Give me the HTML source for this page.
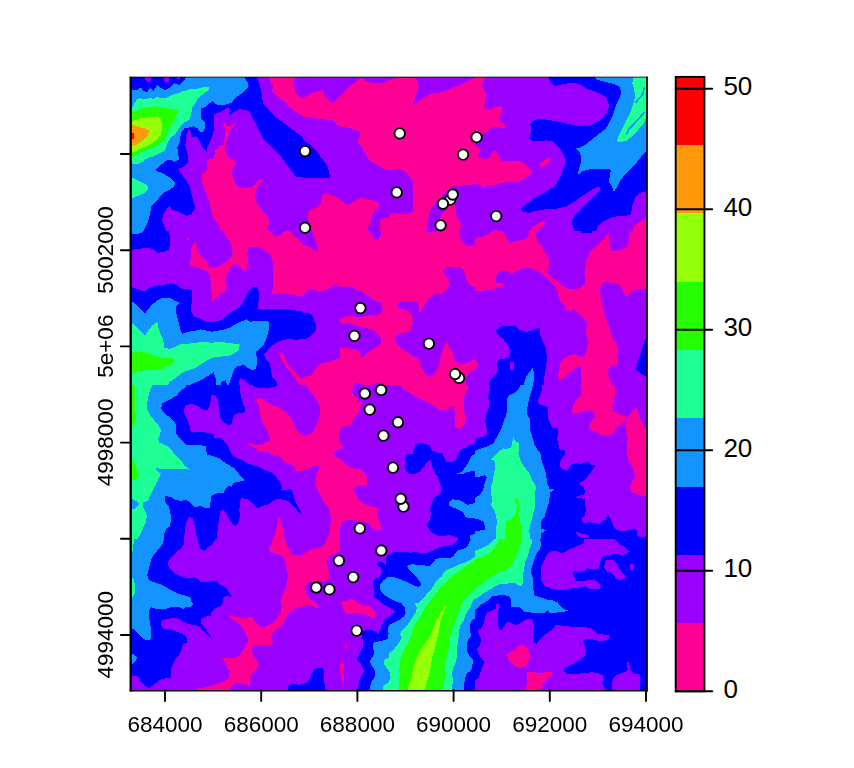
<!DOCTYPE html>
<html><head><meta charset="utf-8"><title>plot</title>
<style>
html,body{margin:0;padding:0;background:#fff;}
svg{display:block;}
text{font-family:"Liberation Sans",sans-serif;fill:#000;}
.ax{font-size:22.5px;}
.lg{font-size:26px;}
</style></head><body>
<svg width="854" height="768" viewBox="0 0 854 768">
<defs>
<clipPath id="c0"><rect x="131" y="77" width="172" height="154"/></clipPath>
<clipPath id="c1"><rect x="131" y="231" width="172" height="154"/></clipPath>
<clipPath id="c2"><rect x="131" y="385" width="172" height="154"/></clipPath>
<clipPath id="c3"><rect x="131" y="539" width="172" height="151"/></clipPath>
<clipPath id="c4"><rect x="303" y="77" width="172" height="154"/></clipPath>
<clipPath id="c5"><rect x="303" y="231" width="172" height="154"/></clipPath>
<clipPath id="c6"><rect x="303" y="385" width="172" height="154"/></clipPath>
<clipPath id="c7"><rect x="303" y="539" width="172" height="151"/></clipPath>
<clipPath id="c8"><rect x="475" y="77" width="172" height="154"/></clipPath>
<clipPath id="c9"><rect x="475" y="231" width="172" height="154"/></clipPath>
<clipPath id="c10"><rect x="475" y="385" width="172" height="154"/></clipPath>
<clipPath id="c11"><rect x="475" y="539" width="172" height="151"/></clipPath>
</defs>
<rect x="0" y="0" width="854" height="768" fill="#fff"/>
<g shape-rendering="crispEdges">
<g clip-path="url(#c0)">
<rect x="131" y="77" width="172" height="154" fill="#0000FF"/>
<polygon fill="#9900FF" points="166.2,231.1 164.2,226.0 162.2,220.0 163.2,214.0 167.3,207.9 170.3,205.9 171.3,209.9 177.3,210.9 183.4,214.0 187.4,216.0 191.4,214.0 195.4,207.9 193.4,201.9 191.4,193.8 189.4,185.8 185.4,179.7 181.4,173.7 178.3,169.6 179.3,168.6 185.4,165.6 188.4,161.6 187.4,153.5 185.4,145.5 186.4,135.4 188.4,129.4 190.4,130.4 191.4,137.4 195.4,136.4 197.5,137.4 201.5,145.5 206.5,151.5 207.5,147.5 211.6,137.4 214.6,129.4 213.6,121.3 213.6,114.3 219.6,112.2 223.6,110.2 228.7,107.2 229.7,115.3 233.7,112.2 239.8,109.2 245.8,110.2 249.8,111.2 251.8,117.3 255.9,123.3 259.9,131.4 263.9,139.4 272.0,147.5 280.0,155.5 286.1,163.6 292.1,171.7 296.2,176.7 304.2,177.7 304.2,232.1"/>
<polygon fill="#9900FF" points="256.9,76.0 259.9,85.1 261.9,95.1 262.9,103.2 270.0,111.2 276.0,117.3 284.1,123.3 292.1,129.4 300.2,135.4 304.2,137.4 304.2,76.0"/>
<polygon fill="#9900FF" points="145.1,76.0 151.1,76.0 151.1,80.6 148.1,82.0 145.1,80.0"/>
<polygon fill="#9900FF" points="164.2,76.0 169.3,76.0 169.3,81.0 166.9,83.0 164.2,81.0"/>
<polygon fill="#9900FF" points="177.3,76.0 180.3,76.0 180.3,79.4 177.3,79.4"/>
<polygon fill="#FF0094" points="269.0,76.0 270.0,81.0 273.0,86.1 272.0,91.1 276.0,95.1 281.0,99.2 286.1,103.2 290.1,107.2 295.1,111.2 299.2,114.3 304.2,115.7 304.2,99.2 299.2,97.1 296.2,93.1 294.1,87.1 294.1,81.0 295.1,76.0"/>
<polygon fill="#FF0094" points="223.6,124.3 225.7,123.3 227.7,126.3 231.7,125.3 235.7,122.9 236.1,124.3 232.7,127.4 229.7,130.4 228.7,135.4 227.7,139.4 225.7,144.5 224.7,146.5 225.7,151.5 227.7,156.6 231.7,159.6 235.7,162.6 236.1,164.0 233.7,166.6 231.7,171.7 232.7,176.7 234.7,181.7 237.7,186.8 242.8,187.8 249.8,187.4 254.9,184.8 257.9,180.7 260.9,179.3 261.9,181.7 258.9,185.8 255.9,190.8 254.9,195.8 256.9,201.9 259.9,207.9 263.9,212.9 268.0,216.0 269.0,222.0 268.0,228.1 268.0,232.1 221.6,232.1 219.6,226.0 215.6,221.0 212.6,216.0 210.6,208.9 209.5,201.9 207.5,195.8 204.5,189.8 202.5,183.7 201.5,177.7 202.5,173.7 205.5,171.7 207.5,167.6 206.5,161.6 208.5,159.6 212.6,158.6 214.6,154.5 215.6,149.5 218.6,146.5 220.6,144.5 223.6,144.5 224.7,137.4 225.7,131.4 224.7,127.4"/>
<polygon fill="#1494FF" points="130.0,90.1 130.0,232.1 143.1,232.1 145.1,228.1 148.1,222.0 150.1,214.0 151.1,205.9 155.2,202.9 159.2,197.8 163.2,192.8 169.3,189.8 174.3,186.8 174.9,182.7 170.3,177.7 163.2,173.7 155.2,170.0 161.2,164.6 166.2,160.6 170.3,159.6 174.3,161.6 179.3,159.6 178.3,155.5 177.3,147.5 179.3,143.5 180.3,137.4 181.4,132.4 184.4,128.4 189.4,127.4 193.4,126.3 197.5,128.4 200.5,132.4 203.5,131.4 205.5,127.4 204.5,122.3 201.5,119.3 200.5,114.3 201.5,108.2 205.5,107.2 209.5,103.2 212.6,101.2 215.6,104.2 221.6,105.2 227.7,104.2 232.7,102.2 233.7,99.2 237.7,96.1 242.8,93.1 246.8,89.1 248.8,85.1 246.8,81.0 243.8,76.0 186.4,76.0 184.4,80.0 179.3,85.1 174.3,83.0 169.3,88.1 165.2,90.1 161.2,88.1 157.2,85.1 153.2,91.1 150.1,88.1 147.1,92.1 143.1,91.1 141.1,87.1 137.0,90.1"/>
<polygon fill="#1EFF96" points="130.0,110.2 133.0,106.2 136.0,100.8 139.1,98.1 142.1,98.8 145.1,99.6 149.1,97.9 153.2,98.8 157.2,97.1 161.2,97.9 166.2,98.1 171.3,95.5 177.3,93.5 183.4,91.1 189.4,89.5 195.4,89.1 201.5,87.5 208.5,87.1 208.5,90.1 204.5,93.1 200.5,96.1 197.5,99.2 195.4,103.2 192.4,107.2 191.4,112.2 190.4,117.3 188.4,120.3 184.4,122.3 181.4,125.3 178.3,129.4 175.3,134.4 171.3,137.4 168.3,141.4 166.2,146.5 165.2,150.5 161.2,152.5 157.2,154.5 153.2,156.6 149.1,157.6 145.1,159.6 141.1,162.6 137.0,164.6 133.0,163.6 130.0,162.6"/>
<polygon fill="#1EFF96" points="130.0,177.7 135.0,178.7 140.1,181.7 146.1,184.8 148.7,186.8 147.1,190.8 143.1,193.8 138.0,195.8 133.0,197.8 130.0,197.8"/>
<polygon fill="#26FF00" points="130.0,112.2 135.0,112.2 138.0,109.2 143.1,108.2 149.1,107.2 155.2,106.2 161.2,107.2 167.3,108.2 173.3,109.2 178.3,110.2 177.3,114.3 175.3,117.3 174.3,121.3 171.3,125.3 168.3,130.4 166.2,135.4 164.2,139.4 161.2,142.5 157.2,145.5 153.2,147.5 149.1,149.5 145.1,150.5 141.1,152.5 137.0,154.5 133.0,156.6 130.0,156.6"/>
<polygon fill="#96FF0A" points="130.0,125.3 134.0,120.3 141.1,118.3 149.1,117.3 157.2,116.3 161.2,119.3 162.2,127.4 161.2,133.4 158.2,138.4 153.2,142.5 148.1,145.5 143.1,147.5 139.1,149.5 135.0,151.5 130.0,152.5"/>
<polygon fill="#FF980A" points="130.0,125.3 135.0,125.3 140.1,127.4 145.1,128.4 149.1,130.4 148.1,135.4 145.1,138.4 141.1,141.4 137.0,144.5 133.0,145.5 130.0,145.9"/>
<polygon fill="#FF0000" points="130.0,132.6 133.8,133.0 133.8,139.0 130.0,139.4"/>
</g>
<g clip-path="url(#c1)">
<rect x="131" y="231" width="172" height="154" fill="#9900FF"/>
<polygon fill="#FF0094" points="222.6,230.0 225.7,236.0 229.7,241.1 231.7,246.1 232.7,253.2 229.7,259.2 223.6,263.2 217.6,267.3 213.6,268.3 208.5,266.2 206.5,261.2 202.5,257.2 198.5,253.2 196.5,248.1 196.5,243.1 194.4,243.1 191.4,247.1 191.4,253.2 190.4,260.2 190.4,265.2 195.4,267.3 201.5,269.3 206.5,271.3 209.5,274.3 210.6,280.3 210.6,286.4 211.6,292.4 211.6,297.5 211.6,301.5 215.6,297.5 220.6,294.4 225.7,291.4 226.7,287.4 225.7,281.4 226.7,274.3 229.7,268.3 233.7,263.2 237.7,265.2 241.8,268.3 245.8,272.3 246.8,267.3 247.8,261.2 247.4,253.2 247.8,248.1 251.8,246.7 257.9,247.1 263.9,249.1 269.0,253.2 272.0,259.2 273.0,265.2 273.0,271.3 273.0,279.3 273.0,287.4 272.0,293.4 275.0,294.4 280.0,293.4 286.1,293.4 292.1,295.0 298.2,295.9 304.2,296.5 304.2,244.1 298.2,240.1 294.1,236.0 290.1,230.0 284.1,230.0 281.0,235.0 276.0,237.0 273.0,235.0 270.0,230.0"/>
<polygon fill="#FF0094" points="187.4,238.0 189.4,238.0 189.4,240.1 187.4,240.1"/>
<polygon fill="#FF0094" points="281.0,351.8 283.1,352.9 285.1,358.9 289.1,365.9 294.1,372.0 299.2,377.0 304.2,380.4 304.2,386.1 300.2,386.1 296.2,379.0 291.1,373.0 286.1,366.9 282.1,359.9 279.6,354.9"/>
<polygon fill="#0000FF" points="168.3,230.0 170.3,237.0 170.3,245.1 168.3,250.1 163.2,252.1 157.2,252.8 154.2,250.1 150.1,248.1 143.1,248.1 137.0,249.1 130.0,250.1 130.0,230.0"/>
<polygon fill="#0000FF" points="130.0,286.4 136.0,288.4 141.1,290.4 145.1,291.4 148.1,288.4 153.2,286.4 159.2,285.4 165.2,284.4 170.3,283.4 174.3,283.8 178.3,286.4 183.4,289.0 189.4,289.4 192.4,290.4 192.4,297.5 191.4,304.5 191.4,311.6 194.4,316.6 200.5,318.6 206.5,321.6 211.6,322.6 217.6,321.2 222.6,319.6 227.7,314.6 233.7,310.6 239.8,307.5 242.8,302.5 245.8,296.5 248.8,290.4 251.8,287.4 256.9,287.0 258.9,291.4 258.9,299.5 257.9,306.5 256.9,309.5 263.9,308.5 272.0,308.5 280.0,308.5 288.1,309.1 296.2,310.6 304.2,311.6 304.2,338.8 296.2,339.8 290.1,338.8 284.1,339.8 278.0,341.8 272.0,345.8 268.0,349.8 263.9,354.9 265.9,359.9 270.0,363.9 271.0,370.0 272.0,376.0 276.0,381.0 278.0,386.1 130.0,386.1"/>
<polygon fill="#9900FF" points="238.8,386.1 239.8,378.0 242.8,379.0 246.8,382.1 249.8,386.1"/>
<polygon fill="#1494FF" points="130.0,234.6 137.0,234.0 143.1,232.0 144.1,230.0 130.0,230.0"/>
<polygon fill="#1494FF" points="130.0,299.5 135.0,303.5 140.1,308.5 145.1,313.2 148.1,309.5 152.1,304.5 157.2,300.5 163.2,297.5 169.3,297.5 174.3,300.5 179.3,302.5 176.3,306.5 176.3,313.6 178.3,321.6 180.3,329.7 182.4,333.7 188.4,331.7 195.4,330.7 200.5,329.3 206.5,330.7 211.6,331.7 217.6,330.7 223.6,329.7 229.7,327.7 234.7,324.7 240.8,321.6 246.8,319.2 249.8,321.6 257.9,321.2 264.9,321.2 269.0,321.6 269.0,327.7 268.0,333.7 265.9,339.8 263.9,344.8 259.9,348.8 255.9,351.8 256.9,357.9 256.9,363.9 255.9,369.0 251.8,370.0 247.8,368.0 243.8,364.9 237.7,366.3 233.7,370.0 231.7,376.0 229.7,382.1 228.7,386.1 216.6,386.1 215.6,378.0 213.6,372.0 209.5,375.0 204.5,378.0 199.5,380.6 193.4,383.5 188.0,386.1 130.0,386.1"/>
<polygon fill="#0000FF" points="220.6,386.1 221.6,381.7 225.7,380.4 227.3,386.1"/>
<polygon fill="#1EFF96" points="130.0,321.6 135.0,325.7 140.1,330.7 145.1,335.3 148.1,330.7 152.1,325.7 157.2,321.6 158.2,326.7 160.2,333.7 163.2,339.8 164.2,347.8 170.3,348.8 175.3,346.8 180.3,344.2 187.4,343.8 195.4,342.8 203.5,341.8 211.6,342.8 219.6,341.8 227.7,342.8 235.7,343.8 239.8,344.8 238.8,349.8 234.7,352.9 229.7,355.9 223.6,356.3 217.6,356.9 211.6,357.9 206.5,360.9 201.5,363.9 195.4,368.0 189.4,370.0 183.4,372.0 179.3,375.0 174.3,379.0 169.3,382.1 167.3,386.1 130.0,386.1"/>
<polygon fill="#26FF00" points="130.0,352.9 137.0,351.8 143.1,351.8 149.1,353.9 155.2,355.9 161.2,357.5 168.3,357.5 173.3,358.3 174.3,361.9 170.3,364.9 165.2,365.9 164.2,369.0 157.2,369.6 151.1,370.0 145.1,370.4 139.1,371.0 135.0,373.0 130.0,374.0"/>
</g>
<g clip-path="url(#c2)">
<rect x="131" y="385" width="172" height="154" fill="#0000FF"/>
<polygon fill="#9900FF" points="239.8,384.0 240.2,391.0 240.8,397.1 242.8,403.1 244.8,408.2 244.8,412.2 239.8,413.2 234.7,414.2 232.7,419.2 231.7,424.3 228.7,425.3 223.6,422.3 220.6,418.2 219.6,412.2 218.6,405.1 217.6,399.1 214.6,395.1 211.6,394.7 210.6,400.1 209.5,406.1 207.5,410.2 203.5,410.2 199.5,407.2 195.4,404.7 190.4,404.1 186.4,405.1 183.8,409.2 184.4,414.2 187.4,419.2 189.4,425.3 190.4,431.3 195.4,432.3 203.5,432.3 210.6,432.9 214.0,434.3 214.6,438.4 219.6,437.8 223.6,440.4 227.7,445.4 229.7,450.5 231.7,454.5 235.7,457.5 241.8,459.9 247.8,463.5 253.9,465.6 259.9,467.6 265.9,470.6 272.0,472.6 276.0,476.6 280.0,481.7 282.1,486.7 281.0,490.7 286.1,489.7 291.1,489.3 293.1,493.8 295.1,500.8 297.2,505.8 300.2,509.9 301.8,513.9 304.2,513.9 304.2,384.0"/>
<polygon fill="#9900FF" points="216.6,540.1 217.2,534.0 218.0,526.0 219.2,517.9 220.6,510.9 223.6,509.9 226.7,513.9 229.7,519.9 232.7,524.0 235.7,526.0 238.8,522.0 239.8,515.9 239.4,509.9 239.8,503.8 240.8,498.2 246.8,498.8 251.8,502.8 254.9,505.8 257.9,507.9 262.9,505.8 268.0,504.8 272.0,501.8 277.0,498.8 282.1,499.4 287.1,500.8 291.1,503.8 295.1,507.9 299.2,512.9 301.8,513.9 304.2,513.9 304.2,540.1"/>
<polygon fill="#9900FF" points="183.8,540.1 185.0,530.0 186.4,522.0 189.4,516.9 192.4,517.9 194.4,524.0 195.9,532.0 197.1,540.1"/>
<polygon fill="#FF0094" points="255.9,398.7 261.9,398.1 264.9,401.1 270.0,404.1 275.0,406.1 280.0,408.2 285.1,411.2 289.1,415.2 292.1,420.2 295.1,426.3 298.2,431.3 301.2,434.3 304.2,435.4 304.2,471.6 300.2,471.2 296.2,470.6 294.1,466.6 291.1,464.6 287.1,463.5 284.1,460.5 281.0,457.5 278.0,454.5 275.0,456.5 271.0,454.5 268.0,451.5 263.9,452.5 259.9,451.5 255.9,449.0 251.8,446.4 247.8,445.0 247.4,443.4 251.8,443.8 256.9,445.4 261.9,444.4 265.9,442.4 270.0,440.4 269.0,435.4 267.6,430.3 264.9,426.3 261.9,422.3 260.9,417.2 259.9,411.2 258.9,405.1 256.9,402.1"/>
<polygon fill="#FF0094" points="279.0,515.9 280.4,522.0 282.1,526.0 284.1,530.0 283.7,535.0 285.1,540.1 273.0,540.1 275.0,534.0 276.4,529.0 277.6,523.0"/>
<polygon fill="#1494FF" points="187.4,384.0 184.4,388.0 180.3,391.0 177.3,395.1 172.3,398.1 167.3,401.1 162.2,403.5 161.2,408.2 163.2,412.2 168.3,416.2 173.3,420.2 176.3,425.3 175.7,432.3 178.3,436.4 182.4,440.4 185.4,444.4 191.4,445.0 200.5,445.0 205.5,446.4 206.5,451.5 207.5,454.5 213.6,456.5 219.6,458.5 224.7,462.5 229.7,465.6 234.7,468.6 238.8,473.6 241.8,477.6 244.8,480.1 239.8,481.7 233.7,482.7 231.7,486.7 228.7,485.7 225.7,488.7 223.6,492.8 219.6,492.8 215.6,493.8 211.6,495.4 210.6,500.8 210.0,507.9 205.5,508.3 200.5,505.8 195.4,507.5 191.4,503.8 186.4,499.8 181.4,500.8 176.3,500.2 170.3,496.8 165.2,496.2 165.2,501.8 168.3,505.8 170.3,511.9 170.9,518.9 170.3,526.0 166.2,529.0 164.2,534.0 163.6,540.1 130.0,540.1 130.0,384.0"/>
<polygon fill="#0000FF" points="251.8,384.0 253.9,387.0 259.9,388.0 268.0,388.6 272.0,387.0 277.0,386.0 278.0,384.0"/>
<polygon fill="#1EFF96" points="153.2,384.0 150.1,390.0 148.1,397.1 147.1,404.1 147.5,410.2 150.1,415.2 154.2,420.2 158.2,424.3 160.8,429.3 160.2,434.3 158.2,438.4 159.2,442.4 164.2,444.4 169.3,447.4 173.3,452.5 177.3,456.5 181.4,460.5 184.4,465.6 189.4,469.6 183.4,469.2 177.3,468.6 171.3,469.2 165.2,468.6 159.2,468.6 155.2,468.0 158.2,471.6 160.8,473.6 159.2,477.6 156.2,483.7 153.2,489.7 150.1,495.8 148.1,500.8 143.1,502.2 142.7,505.8 145.1,510.9 146.7,515.9 146.1,522.0 143.1,528.0 140.7,534.0 138.0,538.1 137.0,540.1 130.0,540.1 130.0,384.0"/>
<polygon fill="#1494FF" points="130.0,498.8 134.0,499.8 138.0,501.8 139.1,503.8 137.0,506.9 134.0,508.9 130.0,509.5"/>
<polygon fill="#26FF00" points="130.0,384.0 135.4,384.0 135.4,393.1 135.0,401.1 135.4,409.2 136.0,417.2 135.0,422.3 133.0,425.3 130.0,426.3"/>
<polygon fill="#26FF00" points="130.0,458.5 133.0,459.5 135.0,464.6 137.0,469.6 138.7,474.6 138.0,479.3 135.0,479.7 130.0,479.7"/>
</g>
<g clip-path="url(#c3)">
<rect x="131" y="539" width="172" height="151" fill="#9900FF"/>
<polygon fill="#FF0094" points="273.0,538.0 272.0,543.0 269.0,547.1 269.0,551.1 274.0,553.1 280.0,555.1 284.1,557.1 285.7,563.2 287.1,569.2 287.7,576.3 287.1,583.3 285.1,589.4 282.1,595.4 281.0,601.4 281.7,607.5 280.0,613.5 277.0,618.6 273.0,622.6 268.0,625.6 262.9,627.6 259.9,626.6 256.9,623.6 253.9,620.6 252.9,617.5 247.8,616.5 245.8,618.6 240.8,618.0 234.7,616.5 227.7,615.1 231.7,618.6 235.7,621.6 239.8,625.6 243.8,629.6 245.8,634.7 248.2,639.7 247.8,643.7 243.8,648.8 239.8,654.8 235.7,657.8 229.7,658.2 221.6,657.8 224.7,661.9 227.7,666.9 229.7,671.9 228.7,678.0 225.7,681.0 219.6,683.0 213.6,685.0 207.5,687.0 201.5,688.0 196.5,688.0 196.5,694.1 226.7,694.1 231.7,686.0 235.7,683.0 241.8,683.6 247.8,685.0 249.8,687.0 250.2,680.0 250.8,673.9 254.9,670.9 258.9,665.9 256.9,659.8 253.9,655.8 251.8,650.8 252.9,645.7 257.9,644.7 264.9,644.7 272.0,645.3 273.0,642.7 271.0,637.7 272.0,633.7 276.0,629.6 281.0,626.6 284.1,621.6 286.1,616.5 290.1,612.5 295.1,608.5 300.2,606.5 304.2,606.5 304.2,556.1 299.2,555.1 294.1,555.5 290.1,552.1 288.1,547.1 286.1,542.0 285.1,538.0"/>
<polygon fill="#0000FF" points="184.4,538.0 183.8,544.0 181.4,548.1 176.3,552.1 172.3,556.1 168.3,561.2 168.3,566.2 171.3,570.2 176.3,574.2 182.4,576.9 188.4,578.3 194.4,577.3 198.5,579.3 200.5,582.3 205.5,582.3 211.6,580.9 216.6,581.3 219.6,584.3 223.6,586.3 226.7,588.3 228.7,592.4 231.7,595.4 230.7,597.0 225.7,595.4 223.2,598.4 222.6,603.4 219.6,606.5 214.6,608.5 211.6,611.5 210.6,615.5 205.5,616.5 200.5,619.6 201.5,623.6 204.5,627.6 207.5,631.6 210.6,635.7 211.2,637.7 207.5,635.3 203.5,630.6 199.5,626.6 194.4,625.2 188.4,624.0 183.4,621.6 178.3,618.6 172.3,618.0 166.2,619.2 161.6,620.6 161.2,625.6 164.2,628.6 170.3,629.2 176.3,631.6 182.4,633.7 186.4,636.7 187.0,642.7 183.0,644.7 181.4,649.8 179.3,654.8 175.3,658.8 173.3,663.9 171.3,667.9 170.9,672.9 171.3,678.0 166.2,678.4 161.2,679.0 157.2,682.0 153.2,685.0 149.1,688.0 145.1,686.0 141.1,682.0 138.7,677.0 135.0,676.0 130.0,677.0 130.0,538.0"/>
<polygon fill="#0000FF" points="197.5,538.0 198.5,544.0 200.5,549.1 204.5,550.7 207.5,547.5 211.6,545.0 214.6,541.0 215.6,538.0"/>
<polygon fill="#0000FF" points="288.1,694.1 288.5,685.0 294.1,684.0 299.2,685.0 304.2,683.0 304.2,694.1"/>
<polygon fill="#1494FF" points="164.2,538.0 163.2,543.0 160.2,547.1 156.2,552.1 152.1,557.1 150.1,563.2 148.7,569.2 147.1,575.3 149.1,580.3 154.2,582.3 160.2,584.3 166.2,587.3 171.3,590.4 177.3,593.4 184.4,595.4 190.4,597.4 191.0,601.4 193.8,603.9 191.4,606.5 185.4,607.5 182.4,609.1 179.3,606.5 173.3,606.5 167.3,608.5 161.2,609.1 155.2,608.5 151.1,607.1 149.5,610.5 149.1,617.5 150.1,623.6 151.1,629.6 151.5,635.7 150.1,639.7 146.1,640.1 142.1,637.7 138.0,633.7 134.0,629.6 130.0,627.6 130.0,538.0"/>
<polygon fill="#1494FF" points="130.0,653.8 134.0,654.2 137.0,657.8 135.0,661.9 132.6,663.9 130.0,663.9"/>
<polygon fill="#1EFF96" points="130.0,538.0 134.0,538.0 133.4,545.0 132.6,551.1 130.0,553.1"/>
<polygon fill="#1EFF96" points="130.0,577.3 133.4,578.3 135.0,585.3 135.4,592.4 133.4,596.4 130.0,597.0"/>
</g>
<g clip-path="url(#c4)">
<rect x="303" y="77" width="172" height="154" fill="#9900FF"/>
<polygon fill="#FF0094" points="302.0,98.8 307.0,96.1 312.1,93.1 318.1,91.1 323.1,90.1 324.1,95.1 327.2,99.2 332.2,102.8 335.2,101.2 339.3,97.1 343.3,93.1 346.3,89.1 350.3,86.1 354.4,83.0 358.4,79.0 361.4,78.0 363.4,79.0 367.4,82.0 373.5,83.4 379.5,83.0 385.6,82.0 391.6,79.4 397.7,78.0 407.7,78.0 414.8,78.0 417.8,82.0 418.8,87.1 416.8,93.1 413.8,100.2 412.8,106.2 415.8,103.2 419.8,100.2 424.9,97.1 429.9,94.1 435.9,93.1 442.0,92.1 448.0,90.1 454.1,87.1 460.1,85.1 466.1,82.0 471.2,79.0 476.2,78.0 476.2,184.1 468.2,184.8 462.1,185.8 458.1,186.8 454.1,185.8 451.0,187.4 447.0,191.8 442.0,196.8 436.9,200.9 432.9,205.9 429.9,210.9 428.3,218.0 426.9,225.0 426.3,232.1 379.5,232.1 379.5,220.0 383.6,218.0 389.6,218.0 390.6,214.0 395.6,212.9 401.7,214.0 407.7,213.6 412.8,211.9 412.8,205.9 413.4,197.8 412.8,189.8 412.8,181.7 409.7,176.7 405.7,171.7 399.7,168.6 395.6,168.6 391.6,170.7 385.6,169.6 379.5,166.6 375.5,163.6 370.5,161.6 367.4,157.6 364.4,151.5 361.4,146.5 358.4,143.5 357.4,140.4 360.4,137.4 360.4,132.4 356.4,130.4 351.3,128.4 345.3,127.4 339.3,126.3 335.2,123.3 333.2,120.3 327.2,119.7 321.1,119.3 315.1,118.3 309.0,117.3 302.0,116.3"/>
<polygon fill="#FF0094" points="453.0,197.8 455.1,205.9 456.1,214.0 459.1,221.0 461.1,224.0 460.1,232.1 444.0,232.1 442.0,226.0 440.0,218.0 444.0,211.9 448.0,205.9 451.0,200.9"/>
<polygon fill="#FF0094" points="308.0,211.9 313.1,208.9 318.1,206.9 321.1,201.9 322.1,194.8 327.2,193.8 333.2,195.8 339.3,198.9 344.3,202.9 348.3,204.9 353.4,201.9 358.4,198.9 363.4,197.8 369.5,199.9 375.5,200.9 379.1,202.9 378.5,207.9 374.5,210.9 371.5,216.0 370.5,222.0 368.5,227.0 367.4,232.1 312.1,232.1 310.0,224.0 308.0,218.0"/>
<polygon fill="#0000FF" points="302.0,139.4 307.0,142.5 312.1,146.5 317.1,151.5 321.1,157.6 325.2,162.6 328.2,167.6 329.2,173.7 330.2,177.7 323.1,177.7 315.1,178.1 309.0,177.7 302.0,177.7"/>
</g>
<g clip-path="url(#c5)">
<rect x="303" y="231" width="172" height="154" fill="#FF0094"/>
<polygon fill="#9900FF" points="302.0,230.0 313.1,230.0 314.1,237.0 316.1,243.1 318.1,248.1 317.5,252.8 314.1,250.1 310.0,247.1 306.0,245.5 302.0,244.7"/>
<polygon fill="#9900FF" points="369.5,230.0 371.5,235.0 374.5,239.1 377.5,240.1 380.5,236.0 382.0,230.0"/>
<polygon fill="#9900FF" points="425.9,230.0 427.9,232.6 433.9,232.0 435.9,230.0"/>
<polygon fill="#9900FF" points="459.1,230.0 460.1,237.0 462.1,242.1 466.1,246.1 471.2,246.1 476.2,244.1 476.2,230.0"/>
<polygon fill="#9900FF" points="302.0,296.5 306.0,292.4 309.0,289.4 313.1,289.0 318.1,291.4 323.1,291.0 329.2,288.4 334.2,285.0 338.2,286.4 343.3,287.0 349.3,286.4 355.4,289.4 361.4,291.4 366.4,295.0 371.5,298.5 376.5,301.1 381.5,302.5 382.6,308.5 380.5,313.6 375.5,315.6 369.5,315.2 363.4,316.6 357.4,317.2 351.3,316.0 345.3,316.6 340.3,319.6 339.3,321.6 343.3,324.0 349.3,323.2 355.4,325.3 363.4,327.3 371.5,329.3 376.5,332.7 380.5,337.7 381.5,342.8 378.5,345.8 373.5,348.8 368.5,351.8 364.4,354.9 361.8,357.9 360.4,352.9 357.4,349.8 351.3,348.8 345.3,347.8 339.3,347.4 340.3,351.8 340.3,357.9 335.2,359.9 329.2,361.9 324.1,362.9 320.1,363.9 316.1,368.0 313.1,372.0 312.1,376.0 307.0,376.4 302.0,377.0"/>
<polygon fill="#9900FF" points="444.0,270.3 447.0,266.9 453.0,267.3 459.1,267.3 463.1,269.3 465.1,274.3 467.1,280.3 469.2,284.4 476.2,288.4 476.2,357.9 470.2,360.9 464.1,363.9 459.1,362.9 454.1,359.9 453.0,352.9 450.0,347.8 446.4,341.8 444.0,346.8 442.0,351.8 440.0,359.9 437.9,368.0 433.9,374.0 428.9,377.0 424.9,373.0 421.8,368.0 419.8,361.9 417.8,357.9 412.8,355.9 407.7,352.9 403.7,349.8 399.7,345.8 395.6,341.8 395.2,336.7 398.7,333.7 404.7,332.7 409.7,331.3 411.8,325.7 412.8,319.6 411.8,315.6 408.7,311.6 404.7,309.5 399.7,308.5 396.7,305.5 399.7,301.9 405.7,300.5 412.8,300.5 417.8,302.5 419.4,307.5 418.8,313.6 421.8,310.6 423.8,305.5 426.9,301.5 429.9,297.5 433.9,294.4 437.9,293.4 441.0,295.0 444.0,291.4 448.0,287.4 450.0,282.4 448.0,278.3 445.0,275.7 444.0,272.3"/>
<polygon fill="#9900FF" points="465.1,386.1 466.1,378.0 469.2,373.0 473.2,370.0 476.2,369.0 476.2,386.1"/>
<polygon fill="#9900FF" points="353.4,386.1 355.4,383.1 361.4,383.7 363.4,386.1"/>
<polygon fill="#9900FF" points="371.5,386.1 373.5,383.7 377.5,383.1 379.5,386.1"/>
<polygon fill="#0000FF" points="302.0,312.6 308.0,312.6 312.1,315.6 314.1,319.6 316.1,324.7 316.1,329.7 313.1,333.7 310.0,336.7 306.0,338.8 302.0,338.8"/>
</g>
<g clip-path="url(#c6)">
<rect x="303" y="385" width="172" height="154" fill="#9900FF"/>
<polygon fill="#FF0094" points="306.0,384.0 309.0,390.0 313.1,395.1 317.1,401.1 320.1,407.2 320.1,414.2 318.1,420.2 316.1,426.3 313.1,431.3 308.0,435.4 302.0,436.4 302.0,469.6 307.0,468.6 312.1,466.6 317.1,465.6 320.1,465.6 318.1,471.6 316.1,477.6 315.1,483.7 317.1,489.7 320.1,494.8 323.1,500.8 327.2,505.8 330.2,511.9 330.8,519.9 330.2,528.0 328.2,536.1 327.2,540.1 340.3,540.1 340.3,530.0 340.9,522.0 345.3,520.3 353.4,520.3 361.4,520.9 367.4,523.0 371.5,527.0 376.5,530.0 382.6,530.4 380.5,526.0 378.5,519.9 376.5,514.9 377.5,509.9 380.5,508.3 377.5,507.5 372.5,506.9 367.4,505.4 362.4,502.8 358.4,498.8 355.4,493.8 352.9,488.7 356.4,486.7 362.4,485.3 367.0,484.7 367.0,477.6 364.4,472.6 360.4,469.6 355.4,468.6 350.3,468.0 346.3,464.6 342.3,460.5 337.2,457.5 333.2,453.5 336.2,450.5 341.3,449.0 343.3,447.4 340.3,443.4 338.9,438.4 339.3,433.3 340.9,427.3 346.3,426.3 351.3,424.3 353.4,419.2 356.4,415.2 359.4,410.2 361.4,405.1 363.4,402.7 359.0,402.1 356.4,398.1 353.4,394.1 351.3,391.0 353.4,387.0 354.4,384.0"/>
<polygon fill="#FF0094" points="399.7,384.0 403.7,389.0 407.7,392.0 412.8,395.1 417.8,397.1 422.8,400.1 427.9,402.7 432.9,405.1 436.9,408.2 442.0,410.8 447.0,410.2 451.0,406.8 454.1,406.1 454.5,412.2 455.1,419.2 455.1,426.3 458.1,428.9 463.1,427.3 464.7,423.3 464.7,415.2 464.1,409.2 463.7,403.1 464.1,397.1 466.1,392.0 468.2,387.0 468.6,384.0"/>
<polygon fill="#0000FF" points="414.8,444.4 418.8,442.4 424.9,443.8 429.9,445.4 431.9,450.5 436.9,452.5 442.0,453.5 444.0,457.5 446.0,461.5 452.0,462.5 456.1,459.5 458.1,453.5 461.1,449.4 466.1,447.4 471.2,444.4 476.2,442.4 476.2,540.1 459.1,540.1 456.1,537.1 450.0,535.0 444.0,536.1 437.9,535.7 432.9,533.0 428.9,529.0 426.9,525.0 429.9,519.9 430.9,513.9 429.9,507.9 431.9,503.8 432.9,498.8 436.9,495.8 441.0,492.8 442.0,487.7 439.6,482.7 437.9,476.6 433.9,471.6 431.9,465.6 430.9,459.9 427.9,461.5 423.8,466.6 419.8,471.6 414.8,474.0 408.7,473.6 405.7,470.6 405.3,464.6 404.7,458.5 406.7,454.5 412.8,453.5 414.2,449.4"/>
<polygon fill="#1494FF" points="476.2,452.5 471.2,456.5 468.2,462.5 465.1,467.6 462.1,471.6 457.1,473.6 462.1,474.6 467.1,472.0 472.2,471.2 476.2,471.6"/>
<polygon fill="#1494FF" points="452.0,499.4 458.1,499.8 463.1,501.8 467.1,504.8 472.2,503.8 476.2,502.8 476.2,517.9 470.2,518.3 465.1,516.9 464.1,512.9 459.1,509.9 454.1,507.9 449.0,505.8 448.4,502.8"/>
<polygon fill="#1494FF" points="470.2,535.0 476.2,534.0 476.2,540.1 470.2,540.1"/>
</g>
<g clip-path="url(#c7)">
<rect x="303" y="539" width="172" height="151" fill="#9900FF"/>
<polygon fill="#FF0094" points="327.2,538.0 325.2,543.0 322.1,547.1 316.1,548.1 310.0,550.1 305.0,553.1 302.0,554.7 302.0,605.5 306.0,604.5 311.1,605.5 315.1,607.9 318.1,607.5 317.5,603.4 314.1,601.8 311.1,599.4 308.0,596.4 306.0,592.4 305.0,588.3 306.0,584.3 309.0,582.3 315.1,581.7 321.1,580.9 327.2,580.3 329.6,578.3 329.2,573.2 328.2,568.2 327.2,563.2 327.6,558.1 331.2,555.1 336.2,553.1 340.3,551.1 340.3,545.0 339.7,538.0"/>
<polygon fill="#FF0094" points="340.3,602.4 345.3,601.0 350.3,599.0 354.4,600.4 357.4,603.4 363.4,605.5 369.5,606.5 372.5,609.5 375.5,612.5 374.5,616.5 371.5,617.5 366.4,615.1 361.4,613.9 356.4,613.1 351.3,613.9 346.3,614.5 344.3,610.5 342.9,606.5"/>
<polygon fill="#FF0094" points="340.3,663.9 342.3,661.9 344.3,664.9 343.3,671.9 344.3,680.0 342.3,683.0 340.9,678.0 340.3,669.9"/>
<polygon fill="#FF0094" points="345.3,647.8 346.9,640.7 347.3,647.8 345.7,649.4"/>
<polygon fill="#0000FF" points="459.1,538.0 456.1,542.0 452.0,545.0 446.0,546.0 440.0,547.1 433.9,550.1 427.9,552.7 421.8,553.1 415.8,552.1 409.7,552.7 403.7,551.5 397.7,552.1 391.6,552.7 387.6,555.1 385.6,559.1 385.6,565.2 382.6,562.2 378.5,562.2 377.1,565.2 380.5,567.2 382.6,570.2 380.5,575.3 376.5,578.3 373.5,581.3 373.1,587.3 374.5,592.4 373.5,596.4 377.5,599.4 382.6,603.4 387.6,606.5 392.6,609.5 395.6,611.5 391.6,615.1 386.6,617.5 383.6,619.6 382.6,623.6 380.5,628.6 378.5,633.7 375.5,631.6 371.5,630.0 366.4,629.6 362.4,632.0 361.8,636.7 363.4,641.7 363.0,646.8 360.4,651.8 357.4,657.8 357.0,660.9 360.4,662.9 362.4,667.9 364.4,670.9 361.4,676.0 359.4,680.0 358.4,686.0 357.8,694.1 476.2,694.1 476.2,538.0"/>
<polygon fill="#0000FF" points="302.0,684.0 307.0,683.0 310.0,678.0 312.1,672.9 314.1,668.9 318.1,667.9 323.1,668.3 324.1,672.9 324.1,680.0 324.8,686.0 325.6,694.1 302.0,694.1"/>
<polygon fill="#1494FF" points="471.2,538.0 469.2,543.0 467.1,547.1 463.1,549.1 458.1,550.1 455.1,553.1 453.0,557.1 448.0,558.1 442.0,557.5 435.9,559.1 431.9,563.2 428.9,566.2 423.8,565.2 417.8,564.8 411.8,564.2 406.7,566.2 408.7,569.2 412.8,573.2 416.8,577.3 419.8,581.3 421.4,585.7 417.8,586.9 412.8,584.9 407.7,582.3 402.7,580.3 397.7,578.3 392.6,576.9 387.6,577.3 383.6,580.3 380.5,584.3 379.9,589.4 382.6,593.4 386.6,596.4 391.6,599.4 396.7,601.8 401.7,603.4 404.7,607.5 405.7,612.5 403.7,616.5 399.7,619.6 394.6,622.0 389.6,624.6 387.6,628.6 388.6,633.7 387.6,638.7 382.6,640.7 377.5,641.7 373.5,642.7 372.5,647.8 374.5,652.8 372.5,656.8 369.5,660.9 371.5,664.9 374.5,669.9 375.5,676.0 372.5,680.0 370.5,685.0 369.9,694.1 476.2,694.1 476.2,538.0"/>
<polygon fill="#0000FF" points="476.2,618.6 472.2,619.6 470.2,623.6 469.8,629.6 471.2,635.7 468.2,639.7 466.5,645.7 467.1,651.8 470.2,656.8 473.2,659.8 472.2,665.9 471.2,670.9 467.1,672.9 465.1,678.0 464.1,684.0 463.7,690.1 463.7,694.1 476.2,694.1"/>
<polygon fill="#1EFF96" points="476.2,556.1 471.2,559.1 466.1,562.2 460.1,564.2 454.1,567.2 448.0,569.2 444.0,572.2 442.0,576.3 437.9,579.3 434.9,583.3 431.9,588.3 427.9,592.4 424.9,596.4 421.8,599.4 418.8,603.4 414.8,603.0 416.8,607.5 415.8,612.5 412.8,616.5 409.7,621.6 406.7,625.6 402.7,629.6 399.7,633.7 401.7,637.7 399.7,641.7 396.7,645.7 393.6,649.8 389.6,652.8 388.6,657.8 384.6,659.8 383.6,663.9 386.6,667.9 389.6,671.9 390.6,678.0 388.6,682.0 383.6,686.0 382.0,694.1 451.0,694.1 452.0,688.0 453.0,680.0 452.0,673.9 453.0,667.9 456.1,661.9 457.1,655.8 456.5,649.8 457.7,643.7 458.5,637.7 459.1,631.6 460.1,625.6 463.1,621.6 465.1,616.5 467.1,611.5 470.2,607.5 472.2,602.4 474.2,599.4 476.2,598.4"/>
<polygon fill="#26FF00" points="476.2,559.1 472.2,562.2 467.1,565.6 462.1,569.2 457.1,572.8 452.0,576.3 448.0,580.3 444.0,584.3 440.0,588.3 436.9,592.4 433.9,596.4 430.9,600.4 427.9,604.5 424.9,608.5 422.8,612.5 420.8,616.5 417.8,620.6 414.8,624.6 412.8,628.6 411.8,633.7 409.7,638.7 407.7,643.7 404.7,648.8 402.7,653.8 400.7,658.8 399.7,663.9 399.3,669.9 399.7,676.0 399.3,682.0 398.7,688.0 397.7,694.1 442.0,694.1 442.4,688.0 444.0,682.0 445.0,676.0 444.4,669.9 445.0,663.9 446.4,657.8 448.0,651.8 449.0,645.7 449.6,639.7 451.0,633.7 453.0,627.6 455.1,621.6 457.1,615.5 459.1,610.5 461.1,605.5 464.1,600.4 467.1,596.4 471.2,592.4 476.2,588.3"/>
<polygon fill="#96FF0A" points="445.0,605.1 442.6,609.5 440.4,613.5 437.9,617.5 435.5,622.6 433.3,627.6 431.3,632.7 429.3,637.7 426.3,641.7 423.2,645.7 420.2,650.8 417.4,655.8 415.4,660.9 413.4,666.9 412.4,672.9 411.4,679.0 409.3,684.0 407.7,689.0 407.3,694.1 424.2,694.1 425.5,688.0 427.1,682.0 428.7,676.0 430.3,669.9 431.1,663.9 431.9,657.8 433.9,651.8 435.5,645.7 436.9,639.7 438.3,633.7 439.6,627.6 440.4,621.6 442.0,616.5 444.0,611.5 445.6,607.5"/>
</g>
<g clip-path="url(#c8)">
<rect x="475" y="77" width="172" height="154" fill="#9900FF"/>
<polygon fill="#FF0094" points="474.0,76.0 485.1,76.0 484.1,82.0 481.0,86.1 484.1,89.1 486.1,95.1 485.1,101.2 484.1,108.2 488.1,110.2 495.1,107.2 502.2,106.2 502.2,110.2 500.2,116.3 500.2,121.3 505.2,124.3 505.2,128.4 499.2,127.4 493.1,127.4 488.1,130.4 483.1,134.4 479.0,132.4 474.0,131.4"/>
<polygon fill="#FF0094" points="474.0,144.5 478.0,147.5 480.0,151.5 478.0,156.6 481.0,157.6 487.1,159.6 490.1,156.6 494.1,150.5 496.1,150.5 498.2,155.5 501.2,160.6 507.2,161.6 515.3,160.6 521.3,160.6 524.3,163.6 527.4,167.6 532.4,171.3 530.4,174.7 525.4,177.7 519.3,181.7 511.3,181.7 503.2,182.7 495.1,184.8 487.1,185.8 483.1,187.8 480.0,184.8 474.0,183.7"/>
<polygon fill="#FF0094" points="539.4,164.6 544.5,159.6 549.5,157.6 550.5,160.6 546.5,164.6 541.5,167.6"/>
<polygon fill="#FF0094" points="529.4,232.1 532.4,227.0 537.4,224.0 543.5,221.0 545.9,222.0 543.5,226.0 539.4,229.1 536.4,232.1"/>
<polygon fill="#FF0094" points="494.1,232.1 496.1,228.1 498.2,232.1"/>
<polygon fill="#0000FF" points="547.5,76.0 550.5,82.0 554.6,86.1 559.6,85.1 567.6,83.4 575.7,83.0 581.7,85.1 586.8,89.1 593.8,91.1 599.9,94.1 605.9,97.1 608.3,102.2 608.9,107.2 606.9,112.2 603.9,116.3 599.9,120.3 594.8,123.3 589.8,125.7 583.8,126.3 575.7,125.7 569.7,124.3 563.6,122.9 557.6,121.7 551.5,120.3 544.5,119.3 537.4,119.3 532.4,121.3 530.4,124.3 531.4,129.4 530.4,134.4 529.4,138.4 532.4,141.4 539.4,141.0 546.5,140.4 552.5,141.4 556.6,145.5 560.6,149.5 563.6,154.5 565.6,159.6 564.6,165.6 562.6,171.7 559.6,177.7 556.6,183.7 552.5,187.8 547.5,190.8 542.5,193.8 536.4,196.8 531.4,200.9 525.4,204.9 520.3,208.9 522.3,211.5 528.4,212.9 535.4,210.9 543.5,209.5 551.5,208.9 559.6,208.3 567.6,205.9 573.7,201.9 579.7,197.8 585.8,193.8 591.8,189.8 597.9,186.8 600.9,186.8 599.9,190.8 594.8,195.8 589.8,200.9 584.8,205.9 579.7,210.9 574.7,216.0 571.7,221.0 572.7,226.0 574.7,232.1 595.8,232.1 597.9,226.0 603.9,221.0 612.0,217.0 620.0,216.0 626.1,216.0 631.1,214.0 632.1,205.9 635.1,197.8 640.2,192.8 648.2,190.8 648.2,76.0"/>
<polygon fill="#FF0094" points="632.1,232.1 634.1,226.0 638.1,223.0 642.2,220.0 646.2,218.0 648.2,218.0 648.2,232.1"/>
<polygon fill="#1494FF" points="593.8,76.0 597.9,80.0 605.9,82.0 614.0,84.0 620.0,87.1 621.0,93.1 619.0,99.2 616.0,105.2 614.0,111.2 612.0,117.3 608.9,123.3 605.9,128.4 600.9,132.4 595.8,136.4 590.8,140.4 585.8,144.5 579.7,147.5 575.7,147.9 579.7,152.5 581.3,157.6 580.7,163.6 578.7,169.6 578.1,174.7 581.7,171.7 587.8,169.6 595.8,168.6 603.9,168.6 610.9,169.6 609.9,175.7 608.9,181.7 612.0,186.8 614.0,191.8 617.0,186.8 620.0,180.7 624.0,175.7 629.1,170.7 634.1,165.6 638.1,160.6 642.2,155.5 646.2,151.5 648.2,150.5 648.2,76.0"/>
<polygon fill="#1EFF96" points="634.1,76.0 632.1,83.0 634.1,89.1 635.1,95.1 634.1,101.2 632.1,107.2 630.1,113.3 627.1,119.3 624.0,125.3 621.0,131.4 618.0,137.4 617.0,141.4 622.0,141.9 627.1,140.4 632.1,136.4 636.1,132.4 639.1,128.4 643.2,124.3 645.2,120.3 646.2,115.3 648.2,115.3 648.2,76.0"/>
<polygon fill="#1494FF" points="645.2,87.1 643.2,95.1 636.1,103.2 634.5,102.2 641.8,94.1 643.8,87.1"/>
<polygon fill="#1494FF" points="643.8,111.2 636.5,120.3 628.5,128.4 625.4,134.4 626.7,135.4 630.1,129.0 637.7,121.3 645.0,112.9"/>
</g>
<g clip-path="url(#c9)">
<rect x="475" y="231" width="172" height="154" fill="#9900FF"/>
<polygon fill="#FF0094" points="474.0,238.0 481.0,237.0 486.1,235.4 490.1,232.6 492.1,230.0 502.2,230.0 505.2,235.0 507.2,240.1 510.2,243.1 515.3,241.1 521.3,240.1 526.4,239.1 528.4,235.0 529.4,230.0 536.4,230.0 536.4,237.0 537.4,242.1 541.5,245.1 543.5,251.1 547.5,255.2 549.1,261.2 548.5,268.3 547.5,273.3 550.5,276.3 554.6,279.3 558.6,282.4 563.6,286.4 568.7,289.4 575.7,289.4 580.7,287.4 584.8,284.4 585.4,277.3 585.4,269.3 585.8,261.2 588.8,256.2 589.8,251.1 594.8,248.1 598.9,244.1 602.9,240.1 605.9,236.0 608.9,233.0 609.5,239.1 609.5,246.1 612.0,251.1 616.0,251.1 621.0,249.1 626.1,248.1 628.1,243.1 629.1,237.0 630.1,230.0 648.2,230.0 648.2,288.4 642.2,289.0 636.1,289.8 632.1,291.4 629.1,294.4 626.1,296.5 623.6,292.4 621.0,287.4 619.0,284.4 614.0,283.0 607.9,282.4 602.9,282.4 600.9,286.4 599.5,291.4 600.9,297.5 601.9,303.5 603.5,309.5 604.9,315.6 606.9,321.6 609.9,327.7 610.9,333.7 613.0,339.8 617.0,343.8 618.0,349.8 617.6,357.9 617.0,364.9 612.0,365.5 608.9,368.0 607.9,374.0 609.9,380.0 612.0,386.1 581.7,386.1 581.3,378.0 580.7,372.0 581.3,365.9 577.7,366.9 572.7,370.0 567.6,374.0 563.6,378.0 559.6,380.0 558.0,376.0 559.2,370.0 560.6,362.9 563.6,358.9 568.7,355.5 573.7,354.3 578.7,355.5 583.8,356.9 585.8,351.8 588.2,346.8 587.8,340.8 586.2,334.7 586.2,328.7 587.4,323.6 584.8,319.6 580.7,315.6 576.7,311.6 573.7,309.1 570.7,311.6 566.6,310.6 564.6,305.5 560.6,302.5 558.6,296.5 558.0,290.4 554.6,286.4 550.5,282.4 546.5,278.3 542.5,274.3 537.4,271.3 531.4,268.3 526.4,267.3 521.3,268.9 516.3,271.3 511.3,274.3 508.8,271.3 503.2,270.9 497.2,272.3 496.1,277.3 496.1,283.4 501.2,282.4 504.2,284.4 502.2,287.0 497.2,287.8 493.1,290.4 487.1,289.8 481.0,291.0 474.0,290.4"/>
<polygon fill="#FF0094" points="474.0,359.9 477.0,360.9 478.0,363.9 476.6,366.9 474.0,366.9"/>
<polygon fill="#0000FF" points="496.1,329.7 500.2,326.7 507.2,326.1 515.3,326.1 519.3,329.7 525.4,331.7 530.4,331.3 535.4,328.7 539.9,328.1 540.5,335.7 542.5,340.8 545.5,346.8 546.5,353.9 546.5,361.9 545.5,370.0 544.5,376.0 543.5,386.1 488.1,386.1 490.1,380.0 494.1,377.0 497.2,372.0 496.8,364.9 498.2,359.9 503.2,358.9 509.2,357.5 510.2,351.8 509.2,346.8 506.2,342.8 503.2,338.8 499.2,335.7 496.8,333.7"/>
<polygon fill="#0000FF" points="648.2,338.8 644.2,339.8 643.2,345.8 641.2,351.8 639.1,357.9 637.1,363.9 636.1,370.0 639.1,372.0 643.2,375.0 648.2,377.0"/>
<polygon fill="#0000FF" points="580.7,230.0 591.8,230.0 591.8,233.0 580.7,233.0"/>
<polygon fill="#9900FF" points="509.6,361.9 513.7,361.9 513.7,370.0 509.6,370.0"/>
<polygon fill="#1494FF" points="523.3,386.1 526.4,376.0 529.4,372.0 532.4,368.0 533.8,372.0 533.8,379.0 533.0,386.1"/>
</g>
<g clip-path="url(#c10)">
<rect x="475" y="385" width="172" height="154" fill="#0000FF"/>
<polygon fill="#9900FF" points="474.0,384.0 490.1,384.0 489.5,391.0 488.1,397.1 489.1,404.1 488.1,410.2 486.1,415.2 485.1,421.3 486.7,427.3 487.1,434.3 484.1,436.4 479.0,437.8 474.0,439.0"/>
<polygon fill="#9900FF" points="542.5,384.0 541.5,391.0 539.4,397.1 537.4,402.1 540.5,405.1 545.5,406.1 548.5,408.2 547.9,414.2 548.5,420.2 550.5,424.3 552.5,428.3 557.6,428.3 558.0,434.3 557.2,439.4 558.6,445.4 559.6,449.4 565.2,450.5 564.6,454.5 561.6,458.5 559.6,462.5 560.6,467.6 564.6,469.6 566.6,471.6 569.7,466.6 573.7,463.5 577.7,462.5 579.7,464.6 584.8,462.5 588.8,461.9 591.8,465.2 595.4,465.6 592.8,469.6 589.8,473.6 586.8,477.6 583.8,480.7 579.3,482.7 579.7,484.7 583.8,486.7 584.8,491.7 583.8,494.8 577.7,495.8 575.7,497.4 579.7,498.2 584.8,498.8 585.4,503.8 585.8,509.9 584.8,515.9 581.7,517.9 582.8,522.0 585.4,524.0 587.8,522.0 593.8,523.0 599.9,524.0 601.5,520.9 605.9,519.9 607.5,512.9 608.9,515.9 612.0,522.0 614.0,527.0 616.0,530.0 622.0,531.0 628.1,530.4 633.1,529.6 636.1,528.4 637.1,532.0 637.1,536.1 642.2,537.1 648.2,536.1 648.2,384.0"/>
<polygon fill="#9900FF" points="575.7,531.0 578.7,533.0 583.8,534.0 588.8,535.0 589.4,538.1 583.8,538.5 579.7,537.1 576.7,535.0"/>
<polygon fill="#FF0094" points="581.7,384.0 580.7,390.0 581.7,395.1 578.7,398.1 574.7,402.1 572.7,407.2 572.1,413.2 577.7,413.2 583.8,411.2 589.8,410.2 593.8,412.2 595.8,417.2 592.8,420.2 589.8,423.3 588.8,428.3 591.8,430.3 596.9,432.3 601.9,435.4 607.9,436.4 613.0,433.3 616.0,428.3 620.0,425.3 624.0,422.3 627.1,420.2 625.0,416.2 620.0,414.2 616.0,413.2 613.0,411.2 612.4,406.1 614.0,401.1 615.0,394.1 614.4,384.0"/>
<polygon fill="#FF0094" points="637.1,406.1 635.1,409.2 631.1,412.2 628.1,415.2 626.5,420.2 625.0,425.3 626.1,431.3 627.7,437.4 627.1,444.4 626.5,451.5 627.7,457.5 630.1,463.5 633.1,469.6 635.1,475.6 632.1,481.7 630.1,487.7 631.1,491.7 636.1,493.8 642.2,495.8 648.2,496.8 648.2,430.3 644.2,428.3 642.2,423.3 640.2,418.2 638.1,412.2"/>
<polygon fill="#1494FF" points="521.3,384.0 518.3,389.0 514.3,393.1 509.2,395.1 506.8,399.1 507.2,407.2 506.2,415.2 504.2,420.2 502.2,426.3 499.2,432.3 496.1,438.4 493.1,443.4 487.1,446.4 481.0,448.4 474.0,451.5 474.0,476.6 480.0,476.6 485.1,475.2 486.7,477.2 484.7,483.7 483.1,489.7 480.0,494.8 474.0,498.8 474.0,518.9 479.0,519.5 483.1,521.6 485.1,526.0 485.5,529.6 481.0,530.4 477.0,531.0 474.0,531.6 474.0,540.1 541.5,540.1 540.5,534.0 546.5,530.0 540.5,529.0 540.5,522.0 544.5,516.9 546.5,509.9 548.5,503.8 549.5,497.8 549.9,492.8 554.6,489.7 549.5,488.7 547.5,483.7 546.5,477.6 545.5,471.6 543.5,465.6 541.5,459.5 541.1,454.5 537.4,449.4 534.4,444.4 532.4,437.4 530.4,430.3 529.8,423.3 530.4,419.2 527.4,415.2 527.0,409.2 528.4,403.1 529.4,397.1 531.4,391.0 533.4,384.0"/>
<polygon fill="#1EFF96" points="513.3,437.8 515.3,441.4 518.3,442.4 519.3,447.4 518.3,453.5 520.3,459.5 523.3,465.6 526.4,469.6 529.4,473.6 531.4,478.7 534.4,483.7 536.4,487.7 534.4,493.8 535.4,499.8 535.4,505.8 533.4,511.9 532.4,517.9 530.4,524.0 529.4,530.0 529.8,540.1 496.1,540.1 496.1,530.0 496.8,522.0 496.1,515.9 494.1,509.9 491.1,505.8 492.1,499.8 491.1,493.8 490.7,487.7 492.7,481.7 493.5,475.6 494.7,469.6 495.1,464.6 494.1,460.5 490.7,459.5 495.1,455.5 499.2,451.5 503.2,448.4 507.2,449.0 511.3,447.4 512.3,442.4"/>
<polygon fill="#26FF00" points="514.3,498.2 518.3,499.8 519.7,505.8 518.3,512.9 520.3,519.9 520.9,528.0 520.9,540.1 504.8,540.1 505.2,530.0 506.2,522.0 511.3,518.9 515.3,515.9 516.3,510.9 516.9,504.8 514.9,501.8"/>
</g>
<g clip-path="url(#c11)">
<rect x="475" y="539" width="172" height="151" fill="#0000FF"/>
<polygon fill="#9900FF" points="584.8,538.0 583.8,543.0 579.7,545.0 574.7,547.1 569.7,549.1 564.6,552.1 561.6,553.5 557.6,551.5 552.5,550.7 548.5,553.1 545.5,557.1 543.5,562.2 540.5,568.2 540.5,574.2 541.1,580.3 544.5,585.3 549.5,588.3 555.6,589.4 561.6,589.8 567.6,588.9 573.7,588.3 579.7,587.3 584.8,586.3 587.8,588.3 593.8,589.4 599.9,588.9 600.9,586.3 597.9,582.3 593.8,579.3 587.8,580.3 581.7,580.9 575.7,581.3 574.7,577.3 572.7,573.2 574.7,571.2 579.7,572.2 584.8,571.2 587.8,568.2 591.8,569.2 597.9,568.8 599.9,565.2 600.9,559.1 603.9,556.1 609.9,554.7 616.0,554.1 622.0,554.7 627.1,553.5 629.7,551.5 626.1,549.1 623.0,546.0 619.0,544.0 616.0,541.0 614.0,538.0"/>
<polygon fill="#9900FF" points="604.9,560.8 608.9,559.5 614.0,560.1 617.0,563.2 619.0,568.2 622.0,572.2 626.1,576.3 624.0,579.3 620.0,580.3 616.0,578.3 613.0,574.2 609.9,572.2 605.9,571.2 604.3,567.2"/>
<polygon fill="#9900FF" points="630.1,563.6 633.7,563.6 633.7,569.6 630.1,569.6"/>
<polygon fill="#9900FF" points="496.1,604.5 499.2,603.0 499.6,607.5 497.6,612.5 497.6,619.6 498.2,625.6 499.2,630.6 502.2,629.6 505.2,624.6 508.2,621.6 512.3,623.6 516.3,625.6 520.3,623.2 524.3,620.6 528.4,618.6 532.4,619.6 533.8,624.6 533.4,631.6 532.4,637.7 533.4,642.7 536.4,643.7 539.4,639.7 542.5,636.7 546.5,633.7 550.5,630.6 554.6,626.6 555.6,624.6 561.6,625.6 567.6,626.0 573.7,627.2 579.7,626.6 584.8,627.2 589.8,628.0 593.8,630.6 596.9,633.7 603.9,634.7 610.3,635.7 608.9,638.7 603.9,641.3 597.9,640.7 591.8,639.3 585.8,639.3 582.8,640.7 584.8,645.7 585.8,650.8 584.8,655.8 580.7,659.8 575.7,662.3 571.7,664.9 567.6,666.9 563.6,667.9 563.6,670.9 567.6,673.9 573.7,674.3 579.7,673.5 585.8,672.9 591.8,672.3 597.9,672.9 602.9,675.6 603.9,680.0 601.9,683.0 603.9,687.0 606.9,690.1 606.9,694.1 474.0,694.1 474.0,680.0 478.0,679.0 480.0,673.9 482.0,667.9 484.1,661.9 481.0,657.8 478.0,652.8 477.0,648.8 480.0,645.7 481.0,639.7 479.0,634.7 478.0,630.6 482.0,627.6 484.1,622.6 485.1,616.5 487.1,612.5 492.1,610.5 496.1,608.5"/>
<polygon fill="#9900FF" points="612.0,690.1 611.6,684.0 613.0,679.0 617.0,674.9 621.0,672.9 625.0,671.9 627.7,669.9 627.1,661.9 629.1,661.9 630.1,669.9 632.1,670.9 633.1,673.9 639.1,674.3 640.6,678.0 640.2,684.0 639.7,690.1 639.7,694.1 612.0,694.1"/>
<polygon fill="#FF0094" points="507.2,654.8 510.2,651.8 515.3,649.8 518.3,645.7 523.3,645.3 527.4,647.8 529.4,651.8 529.8,657.8 528.4,662.9 525.4,666.9 520.3,667.9 515.3,666.3 511.3,662.9 508.2,659.8"/>
<polygon fill="#FF0094" points="527.4,672.3 534.4,671.9 539.4,673.5 545.5,671.9 551.5,671.5 552.5,676.0 548.5,678.0 545.5,681.0 542.5,685.0 540.5,690.1 540.5,694.1 525.8,694.1 526.4,688.0 527.0,680.0"/>
<polygon fill="#FF0094" points="494.1,644.7 496.8,643.7 496.1,646.1"/>
<polygon fill="#1494FF" points="539.4,538.0 541.5,544.0 539.9,549.1 536.4,554.1 534.4,559.1 532.4,565.2 530.4,571.2 532.4,576.3 533.4,582.3 533.4,589.4 534.4,595.4 540.5,597.4 546.5,599.4 552.5,600.4 557.6,602.4 560.6,606.5 564.6,609.5 567.6,610.5 563.6,611.9 556.6,612.5 549.5,612.5 547.5,609.9 545.5,612.5 539.4,612.5 531.4,612.5 524.3,611.9 521.3,608.5 518.3,606.5 514.3,606.5 511.3,607.5 510.9,601.4 510.2,597.0 505.2,595.4 498.2,595.4 492.1,596.4 489.1,599.4 485.1,602.4 481.0,604.5 477.0,608.5 474.0,610.5 474.0,538.0"/>
<polygon fill="#1EFF96" points="495.1,538.0 532.4,538.0 531.4,545.0 529.0,550.1 527.8,556.1 525.4,561.2 524.3,567.2 523.3,573.2 522.9,579.3 522.3,586.3 519.3,585.7 515.3,583.3 510.2,582.9 505.2,584.3 499.2,584.3 495.1,586.3 490.1,589.4 486.1,591.8 482.0,594.4 478.0,597.4 474.0,599.4 474.0,551.5 479.0,549.5 485.1,546.7 491.1,543.0"/>
<polygon fill="#26FF00" points="500.2,538.0 521.3,538.0 520.3,545.0 518.3,551.1 516.3,557.1 513.3,562.2 510.2,567.2 506.2,570.2 501.2,572.2 496.1,574.2 491.1,577.3 486.1,580.3 481.0,584.3 477.0,587.3 474.0,589.4 474.0,560.1 479.0,558.1 485.1,556.1 491.1,552.1 495.1,547.1 498.2,542.0"/>
</g>
</g>
<!-- plot box -->
<g stroke="#000" fill="none"><path d="M130.7 76.7V691.5" stroke-width="2.3"/><path d="M129.6 77.1H647.8" stroke-width="0.8"/><path d="M647 76.7V691.5" stroke-width="1.7"/><path d="M129.6 690.7H647.85" stroke-width="1.6"/></g>
<!-- x ticks -->
<g stroke="#000" stroke-width="1.9" fill="none" stroke-linecap="round">
<path d="M165 690V701M261.2 690V701M357.4 690V701M453.6 690V701M549.8 690V701M646 690V701"/>
<path d="M130.7 635H120.9M130.7 538.8H120.9M130.7 442.6H120.9M130.7 346.4H120.9M130.7 250.2H120.9M130.7 154H120.9"/>
</g>
<g class="ax" text-anchor="middle" opacity="0.999">
<text x="165" y="731.7">684000</text>
<text x="261.2" y="731.7">686000</text>
<text x="357.4" y="731.7">688000</text>
<text x="453.6" y="731.7">690000</text>
<text x="549.8" y="731.7">692000</text>
<text x="646" y="731.7">694000</text>
<text transform="translate(113.3 634.8) rotate(-90)">4994000</text>
<text transform="translate(113.3 442.4) rotate(-90)">4998000</text>
<text transform="translate(113.3 346.2) rotate(-90)">5e+06</text>
<text transform="translate(113.3 250) rotate(-90)">5002000</text>
</g>
<!-- legend -->
<g shape-rendering="crispEdges">
<rect x="675.7" y="76.9" width="28.75" height="68.7" fill="#FF0000"/>
<rect x="675.7" y="145.2" width="28.75" height="68.7" fill="#FF980A"/>
<rect x="675.7" y="213.4" width="28.75" height="68.7" fill="#96FF0A"/>
<rect x="675.7" y="281.7" width="28.75" height="68.7" fill="#26FF00"/>
<rect x="675.7" y="350.0" width="28.75" height="68.7" fill="#1EFF96"/>
<rect x="675.7" y="418.2" width="28.75" height="68.7" fill="#1494FF"/>
<rect x="675.7" y="486.5" width="28.75" height="68.7" fill="#0000FF"/>
<rect x="675.7" y="554.8" width="28.75" height="68.7" fill="#9900FF"/>
<rect x="675.7" y="623.0" width="28.75" height="68.7" fill="#FF0094"/>
</g>
<rect x="675.7" y="76.9" width="28.75" height="614.4" fill="none" stroke="#000" stroke-width="1.9"/>
<path d="M675.7 691.2H712.2M675.7 570.7H712.2M675.7 450.2H712.2M675.7 329.7H712.2M675.7 209.2H712.2M675.7 88.7H712.2" stroke="#000" stroke-width="1.9" fill="none" stroke-linecap="round"/>
<g class="lg" opacity="0.999">
<text x="723.4" y="697.9">0</text>
<text x="723.4" y="577.4">10</text>
<text x="723.4" y="456.9">20</text>
<text x="723.4" y="336.4">30</text>
<text x="723.4" y="215.9">40</text>
<text x="723.4" y="95.4">50</text>
</g>
<!-- points -->
<circle cx="399.7" cy="133.4" r="5.25" fill="#fff" stroke="#000" stroke-width="1.9"/>
<circle cx="305.0" cy="151.1" r="5.25" fill="#fff" stroke="#000" stroke-width="1.9"/>
<circle cx="463.1" cy="154.6" r="5.25" fill="#fff" stroke="#000" stroke-width="1.9"/>
<circle cx="476.6" cy="137.2" r="5.25" fill="#fff" stroke="#000" stroke-width="1.9"/>
<circle cx="396.7" cy="192.4" r="5.25" fill="#fff" stroke="#000" stroke-width="1.9"/>
<circle cx="450.2" cy="199.6" r="5.25" fill="#fff" stroke="#000" stroke-width="1.9"/>
<circle cx="452.7" cy="194.5" r="5.25" fill="#fff" stroke="#000" stroke-width="1.9"/>
<circle cx="442.9" cy="203.8" r="5.25" fill="#fff" stroke="#000" stroke-width="1.9"/>
<circle cx="496.2" cy="216.1" r="5.25" fill="#fff" stroke="#000" stroke-width="1.9"/>
<circle cx="440.6" cy="225.3" r="5.25" fill="#fff" stroke="#000" stroke-width="1.9"/>
<circle cx="305.0" cy="227.7" r="5.25" fill="#fff" stroke="#000" stroke-width="1.9"/>
<circle cx="360.4" cy="308.1" r="5.25" fill="#fff" stroke="#000" stroke-width="1.9"/>
<circle cx="354.4" cy="335.9" r="5.25" fill="#fff" stroke="#000" stroke-width="1.9"/>
<circle cx="428.9" cy="343.6" r="5.25" fill="#fff" stroke="#000" stroke-width="1.9"/>
<circle cx="459.1" cy="378.0" r="5.25" fill="#fff" stroke="#000" stroke-width="1.9"/>
<circle cx="455.1" cy="374.0" r="5.25" fill="#fff" stroke="#000" stroke-width="1.9"/>
<circle cx="364.8" cy="393.5" r="5.25" fill="#fff" stroke="#000" stroke-width="1.9"/>
<circle cx="381.1" cy="390.0" r="5.25" fill="#fff" stroke="#000" stroke-width="1.9"/>
<circle cx="369.7" cy="409.6" r="5.25" fill="#fff" stroke="#000" stroke-width="1.9"/>
<circle cx="397.9" cy="422.3" r="5.25" fill="#fff" stroke="#000" stroke-width="1.9"/>
<circle cx="383.4" cy="435.6" r="5.25" fill="#fff" stroke="#000" stroke-width="1.9"/>
<circle cx="393.0" cy="467.6" r="5.25" fill="#fff" stroke="#000" stroke-width="1.9"/>
<circle cx="403.5" cy="506.6" r="5.25" fill="#fff" stroke="#000" stroke-width="1.9"/>
<circle cx="400.7" cy="498.8" r="5.25" fill="#fff" stroke="#000" stroke-width="1.9"/>
<circle cx="359.8" cy="528.4" r="5.25" fill="#fff" stroke="#000" stroke-width="1.9"/>
<circle cx="381.3" cy="550.5" r="5.25" fill="#fff" stroke="#000" stroke-width="1.9"/>
<circle cx="338.9" cy="560.6" r="5.25" fill="#fff" stroke="#000" stroke-width="1.9"/>
<circle cx="353.2" cy="577.1" r="5.25" fill="#fff" stroke="#000" stroke-width="1.9"/>
<circle cx="316.3" cy="587.5" r="5.25" fill="#fff" stroke="#000" stroke-width="1.9"/>
<circle cx="329.4" cy="589.4" r="5.25" fill="#fff" stroke="#000" stroke-width="1.9"/>
<circle cx="356.6" cy="630.6" r="5.25" fill="#fff" stroke="#000" stroke-width="1.9"/>
</svg>
</body></html>
